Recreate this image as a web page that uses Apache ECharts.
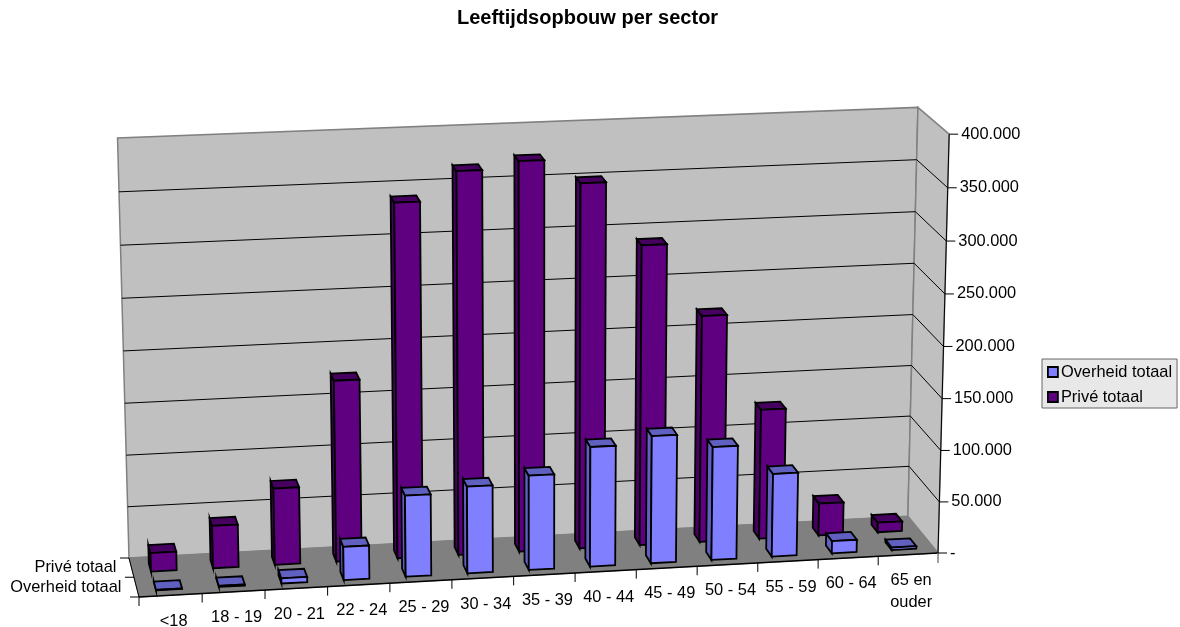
<!DOCTYPE html>
<html>
<head>
<meta charset="utf-8">
<title>Leeftijdsopbouw per sector</title>
<script src="https://cdn.jsdelivr.net/npm/echarts@6/dist/echarts.min.js"></script>
<style>
html,body{margin:0;padding:0;background:#fff;}
#chart{width:1180px;height:627px;}
</style>
</head>
<body>
<div id="chart"></div>
<script>
var categories = ['<18','18 - 19','20 - 21','22 - 24','25 - 29','30 - 34','35 - 39','40 - 44','45 - 49','50 - 54','55 - 59','60 - 64','65 en\nouder'];
var overheid = [500,1000,5000,32000,78000,83500,91000,115500,123000,109500,80500,12000,2500];
var prive = [18000,41000,74000,174500,340000,367000,374000,351000,290000,220000,126500,31500,9500];
var yTickValues = [0,50000,100000,150000,200000,250000,300000,350000,400000];
var yTickLabels = ['-','50.000','100.000','150.000','200.000','250.000','300.000','350.000','400.000'];
var depthLabels = ['Overheid totaal','Privé totaal'];

var FONT = 'Liberation Sans';

// the 3d box: front-left floor corner and the far end of each edge, with a weight for perspective
var O = [139,597], U = [938,553], V = [127.5,166.5], W = [129,558];
var au = 1.03, av = 0.972, aw = 1.027;

function project(u,v,w){
    var d = 1 + u*(au-1) + v*(av-1) + w*(aw-1);
    return [
        (O[0] + u*(au*U[0]-O[0]) + v*(av*V[0]-O[0]) + w*(aw*W[0]-O[0]))/d,
        (O[1] + u*(au*U[1]-O[1]) + v*(av*V[1]-O[1]) + w*(aw*W[1]-O[1]))/d
    ];
}

// grid pixels -> 0..1 inside the box
function toU(params,px){ var r = params.coordSys; return (px-r.x)/r.width; }
function toV(params,py){ var r = params.coordSys; return (r.y+r.height-py)/r.height; }

function poly(points,fill,stroke,lw){
    return {type:'polygon',shape:{points:points},style:{fill:fill,stroke:stroke,lineWidth:lw}};
}
function line(a,b,stroke,lw){
    return {type:'line',shape:{x1:a[0],y1:a[1],x2:b[0],y2:b[1]},style:{stroke:stroke,lineWidth:lw}};
}
function label(text,x,y,align,valign){
    return {type:'text',style:{text:text,x:x,y:y,fill:'#000',fontFamily:FONT,fontSize:16.4,lineHeight:22,align:align,verticalAlign:valign||'middle'}};
}

function renderWalls(params,api){
    var kids = [];
    kids.push(poly([project(0,0,1),project(1,0,1),project(1,1,1),project(0,1,1)],'#c0c0c0','#808080',1.5));
    kids.push(poly([project(1,0,1),project(1,0,0),project(1,1,0),project(1,1,1)],'#c0c0c0','#808080',1.5));
    kids.push(poly([project(0,0,0),project(1,0,0),project(1,0,1),project(0,0,1)],'#808080','#808080',1));
    yTickValues.forEach(function(val){
        if(val==0 || val==400000) return;
        var v = toV(params,api.coord([0,val])[1]);
        kids.push(line(project(0,v,1),project(1,v,1),'#000',1));
        kids.push(line(project(1,v,1),project(1,v,0),'#000',1));
    });
    return {type:'group',children:kids};
}

function barRenderer(w0,w1,dark){
    return function(params,api){
        var c = api.coord([api.value(0),api.value(1)]);
        var half = api.size([1,0])[0]*0.207/params.coordSys.width;
        var u = toU(params,c[0]), v = toV(params,c[1]);
        var u0 = u-half, u1 = u+half;
        var front = api.visual('color');
        return {type:'group',children:[
            poly([project(u0,0,w1),project(u0,0,w0),project(u0,v,w0),project(u0,v,w1)],dark,'#000',1.8),
            poly([project(u0,v,w0),project(u1,v,w0),project(u1,v,w1),project(u0,v,w1)],dark,'#000',1.8),
            poly([project(u0,0,w0),project(u1,0,w0),project(u1,v,w0),project(u0,v,w0)],front,'#000',1.8)
        ]};
    };
}

function renderCategoryAxis(params,api){
    var i = params.dataIndex;
    var c = api.coord([i,0]);
    var u = toU(params,c[0]);
    var half = api.size([1,0])[0]/2/params.coordSys.width;
    var kids = [];
    var a = project(u-half,0,0);
    kids.push(line(a,[a[0],a[1]+9],'#000',1));
    if(i==categories.length-1){
        var b = project(u+half,0,0);
        kids.push(line(project(0,0,0),b,'#000',1.5));
        kids.push(line(b,[b[0],b[1]+10],'#808080',1.5));
    }
    var p = project(u,0,0);
    kids.push(label(categories[i],p[0]+3,p[1]+15,'center','top'));
    return {type:'group',children:kids};
}

function renderValueAxis(params,api){
    var i = params.dataIndex;
    var v = toV(params,api.coord([0,api.value(1)])[1]);
    var p = project(1,v,0);
    var kids = [line(p,[p[0]+9,p[1]],'#000',1),label(yTickLabels[i],p[0]+12,p[1],'left')];
    if(i==0) kids.push(line(project(1,0,0),project(1,1,0),'#000',1));
    return {type:'group',children:kids};
}

function renderDepthAxis(params,api){
    var kids = [];
    kids.push(line(project(0,0,0),project(0,0,1),'#000',1));
    [0,0.5,1].forEach(function(w){
        var p = project(0,0,w);
        kids.push(line(p,[p[0]-9,p[1]],'#000',1));
    });
    var a = project(0,0,0.25), b = project(0,0,0.75);
    kids.push(label(depthLabels[0],a[0]-15,a[1],'right'));
    kids.push(label(depthLabels[1],b[0]-15,b[1],'right'));
    return {type:'group',children:kids};
}

var myChart = echarts.init(document.getElementById('chart'));
var option = {
    animation:false,
    backgroundColor:'#fff',
    title:{
        text:'Leeftijdsopbouw per sector',
        left:452,
        top:3,
        textStyle:{fontFamily:FONT,fontSize:20,fontWeight:'bold',color:'#000'}
    },
    legend:{
        data:['Overheid totaal','Privé totaal'],
        orient:'vertical',
        left:1042,
        top:359,
        padding:[5,5,3,5],
        itemWidth:10,
        itemHeight:10,
        itemGap:9,
        icon:'rect',
        backgroundColor:'#e8e8e8',
        borderColor:'#666',
        borderWidth:1,
        itemStyle:{borderColor:'#000',borderWidth:1.8},
        textStyle:{fontFamily:FONT,fontSize:16.4,color:'#000',padding:[0,0,0,-2]}
    },
    grid:{left:139,right:242,top:133,bottom:30},
    xAxis:{type:'category',data:categories,show:false},
    yAxis:{type:'value',min:0,max:400000,interval:50000,show:false},
    series:[
        {type:'custom',name:'wanden',silent:true,data:[[0,0]],renderItem:renderWalls},
        {type:'custom',name:'Privé totaal',silent:true,itemStyle:{color:'#5e0080'},
            data:prive.map(function(d,i){return [i,d];}),
            encode:{x:0,y:1},renderItem:barRenderer(0.62,0.83,'#46005f')},
        {type:'custom',name:'Overheid totaal',silent:true,itemStyle:{color:'#8080ff'},
            data:overheid.map(function(d,i){return [i,d];}),
            encode:{x:0,y:1},renderItem:barRenderer(0.14,0.35,'#6060c0')},
        {type:'custom',name:'x-as',silent:true,data:categories.map(function(c,i){return [i,0];}),renderItem:renderCategoryAxis},
        {type:'custom',name:'y-as',silent:true,data:yTickValues.map(function(d){return [0,d];}),encode:{x:0,y:1},renderItem:renderValueAxis},
        {type:'custom',name:'z-as',silent:true,data:[[0,0]],renderItem:renderDepthAxis}
    ]
};
myChart.setOption(option);
</script>
</body>
</html>
